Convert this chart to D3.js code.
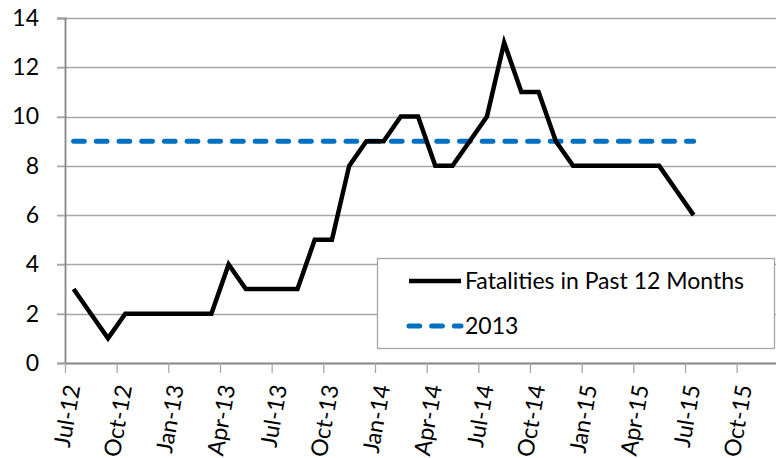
<!DOCTYPE html>
<html>
<head>
<meta charset="utf-8">
<script src="https://cdn.jsdelivr.net/npm/d3@7"></script>
<style>
  body { margin: 0; background: #fff; }
  text { font-family: Lato, "Open Sans", sans-serif; fill: #000; }
</style>
</head>
<body>
<div id="viz"></div>
<script>
// svg size
const width = 776
const height = 458
const margin = {left: 65, top: 18, right: 0, bottom: 95}

// monthly values, starting Jul-12
const months = ["Jul-12","Aug-12","Sep-12","Oct-12","Nov-12","Dec-12",
  "Jan-13","Feb-13","Mar-13","Apr-13","May-13","Jun-13",
  "Jul-13","Aug-13","Sep-13","Oct-13","Nov-13","Dec-13",
  "Jan-14","Feb-14","Mar-14","Apr-14","May-14","Jun-14",
  "Jul-14","Aug-14","Sep-14","Oct-14","Nov-14","Dec-14",
  "Jan-15","Feb-15","Mar-15","Apr-15","May-15","Jun-15","Jul-15"]
const fatalities = [3,2,1,2,2,2, 2,2,2,4,3,3, 3,3,5,5,8,9, 9,10,10,8,8,9, 10,13,11,11,9,8, 8,8,8,8,8,7,6]
const baseline2013 = months.map(function() {return 9})

// x tick labels, every 3 months
const tickLabels = ["Jul-12","Oct-12","Jan-13","Apr-13","Jul-13","Oct-13","Jan-14",
  "Apr-14","Jul-14","Oct-14","Jan-15","Apr-15","Jul-15","Oct-15"]
const yTicks = [0,2,4,6,8,10,12,14]

const seriesNames = ["Fatalities in Past 12 Months", "2013"]

const monthW = 17.222
const fontSize = "23px"
const g_height = height - margin.top - margin.bottom

var svg = d3.select("#viz")
  .append("svg")
  .attr("width", width)
  .attr("height", height)

// x is in month units, tick at start of month, points at month centre
const x = d3.scaleLinear()
  .domain([0, 42])
  .range([margin.left, margin.left + 42 * monthW])

const y = d3.scaleLinear()
  .domain([0, 14])
  .range([margin.top + g_height, margin.top])

// gridlines
svg.append("g")
  .selectAll("line")
  .data(yTicks.slice(1))
  .enter()
  .append("line")
  .attr("x1", margin.left - 8)
  .attr("x2", width)
  .attr("y1", function(d) {return Math.round(y(d)) + 0.5})
  .attr("y2", function(d) {return Math.round(y(d)) + 0.5})
  .style("stroke", "#a6a6a6")
  .style("stroke-width", 1.3)

// y axis
const yAxis = svg.append("g")
  .attr("transform", "translate(" + margin.left + ",0)")
  .call(d3.axisLeft(y).tickValues(yTicks).tickSize(8).tickPadding(18))
yAxis.select(".domain").style("stroke", "#868686").style("stroke-width", 1.8)
yAxis.selectAll(".tick line").style("stroke", "#a6a6a6").style("stroke-width", 1.3)
yAxis.selectAll("text").style("font-size", fontSize).style("font-family", "Lato, sans-serif")

// x axis
const xAxis = svg.append("g")
  .attr("transform", "translate(0," + y(0) + ")")
  .call(d3.axisBottom(x)
    .tickValues(tickLabels.map(function(d, i) {return i * 3}))
    .tickFormat(function(d, i) {return tickLabels[i]})
    .tickSize(10)
    .tickSizeOuter(0))
xAxis.select(".domain").style("stroke", "#868686").style("stroke-width", 1.8)
xAxis.selectAll(".tick line").style("stroke", "#a6a6a6").style("stroke-width", 1.3)
// labels are tilted a little off vertical, as in the source
xAxis.selectAll("text")
  .style("font-size", fontSize)
  .style("font-family", "Lato, sans-serif")
  .style("text-anchor", "end")
  .attr("dy", "0.35em")
  .attr("transform", "translate(7,22)rotate(-80)")
  .attr("x", 0)
  .attr("y", 0)

// lines
const line = d3.line()
  .x(function(d, i) {return x(i + 0.5)})
  .y(function(d) {return y(d)})

svg.append("path")
  .datum(baseline2013)
  .attr("d", line)
  .style("fill", "none")
  .style("stroke", "#0070c0")
  .style("stroke-width", 5)
  .style("stroke-linecap", "round")
  .style("stroke-dasharray", "10.7,12")

svg.append("path")
  .datum(fatalities)
  .attr("d", line)
  .style("fill", "none")
  .style("stroke", "#000")
  .style("stroke-width", 4.5)
  .style("stroke-linejoin", "miter")

// legend
svg.append("rect")
  .attr("x", 377.5)
  .attr("y", 258.5)
  .attr("width", 397)
  .attr("height", 90)
  .style("fill", "#fff")
  .style("stroke", "#a6a6a6")
  .style("stroke-width", 1.3)

const legendRows = svg.append("g")
  .selectAll("g")
  .data(seriesNames)
  .enter()
  .append("g")
  .attr("transform", function(d, i) {return "translate(409," + (281 + i * 45) + ")"})

legendRows.append("line")
  .attr("x1", 0)
  .attr("x2", 52)
  .style("stroke", function(d, i) {return i == 0 ? "#000" : "#0070c0"})
  .style("stroke-width", function(d, i) {return i == 0 ? 4.5 : 5})
  .style("stroke-linecap", function(d, i) {return i == 0 ? "butt" : "round"})
  .style("stroke-dasharray", function(d, i) {return i == 0 ? null : "10.7,12"})

legendRows.append("text")
  .attr("x", 56)
  .attr("y", 8)
  .style("font-size", fontSize)
  .text(function(d) {return d})
</script>
</body>
</html>
